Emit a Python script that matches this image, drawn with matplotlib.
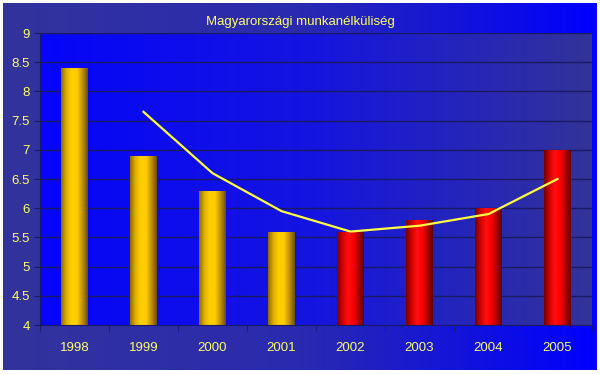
import numpy as np
import matplotlib.pyplot as plt
from matplotlib.patches import Rectangle
from matplotlib.colors import LinearSegmentedColormap

years = ['1998', '1999', '2000', '2001', '2002', '2003', '2004', '2005']
rate = [8.4, 6.9, 6.3, 5.6, 5.6, 5.8, 6.0, 7.0]
trend_x = ['1999', '2000', '2001', '2002', '2003', '2004', '2005']
trend = [7.65, 6.6, 5.95, 5.6, 5.7, 5.9, 6.5]
gold_years = 4  # first four bars are gold, rest red

plt.rcParams['font.family'] = ['Liberation Sans', 'DejaVu Sans']
txt = '#ffff66'

fig = plt.figure(figsize=(6, 3.74), dpi=100)
fig.patch.set_facecolor('white')

# outer panel with gradient
bg = fig.add_axes([0.005, 0.01, 0.989, 0.982])
bg.axis('off')
outer = LinearSegmentedColormap.from_list('o', ['#33339c', '#2a2ab0', '#0000ff'])
bg.imshow(np.linspace(0, 1, 256)[None, :], aspect='auto', cmap=outer, extent=[0, 1, 0, 1])
bg.set_xlim(0, 1); bg.set_ylim(0, 1)

ax = fig.add_axes([40/600, 1-325/374, 552/600, 292/374])
x = np.arange(len(years))
ax.set_xlim(-0.5, len(years)-0.5)
ax.set_ylim(4, 9)
inner = LinearSegmentedColormap.from_list('i', ['#0505f8', '#1515e0', '#333399'])
ax.imshow(np.linspace(0, 1, 256)[None, :], aspect='auto', cmap=inner,
          extent=[-0.5, len(years)-0.5, 4, 9], zorder=0)

for yv in np.arange(4.5, 9.01, 0.5):
    ax.axhline(yv, color='#1a1a60', lw=1, zorder=1)

gold = LinearSegmentedColormap.from_list('g', ['#8a6a00', '#e0b000', '#ffd000', '#ffcc00', '#c09000', '#6a5000'])
red = LinearSegmentedColormap.from_list('r', ['#700000', '#d00000', '#ff1010', '#ff0000', '#b00000', '#600000'])
w = 0.39
for i, v in enumerate(rate):
    cm = gold if i < gold_years else red
    im = ax.imshow(np.linspace(0, 1, 128)[None, :], aspect='auto', cmap=cm,
                   extent=[x[i]-w/2, x[i]+w/2, 4, v], zorder=2)
    r = Rectangle((x[i]-w/2, 4), w, v-4, transform=ax.transData, fill=False, lw=0)
    ax.add_patch(r)
    im.set_clip_path(r)

ax.plot([years.index(t) for t in trend_x], trend, color='#ffff40', lw=1.6, zorder=3)

ax.set_xticks(x)
ax.set_xticklabels(years)
ax.set_xticks(np.arange(-0.5, len(years)), minor=True)
ax.tick_params(axis='x', which='major', length=0, pad=12, colors=txt, labelsize=9.5)
ax.tick_params(axis='x', which='minor', length=4, color='#1a1a60', direction='out')
ax.set_yticks(np.arange(4, 9.01, 0.5))
ax.set_yticklabels([('%g' % v) for v in np.arange(4, 9.01, 0.5)])
ax.tick_params(axis='y', length=4, color='#1a1a60', colors=txt, labelsize=9.5)
ax.tick_params(axis='y', color='#1a1a60')
for s in ['top', 'right']:
    ax.spines[s].set_visible(False)
ax.spines['left'].set_color('#1a1a60')
ax.spines['bottom'].set_color('#1a1a60')

fig.text(0.5, 1-22/374, 'Magyarországi munkanélküliség', color=txt, ha='center', va='center', fontsize=9.5)

fig.savefig('out.png', dpi=100)
